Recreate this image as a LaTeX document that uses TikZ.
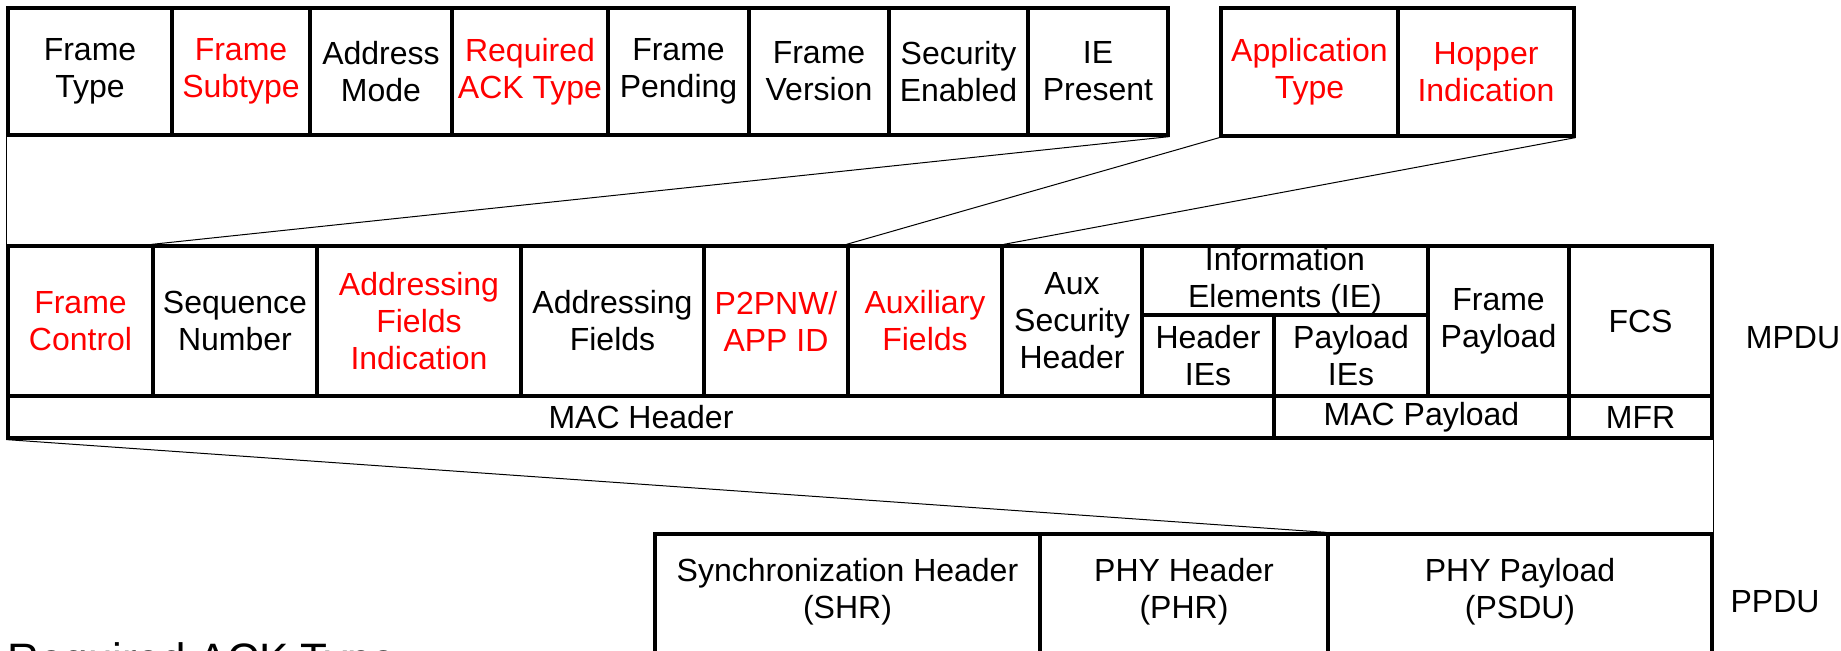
\documentclass[tikz,border=0pt]{standalone}
\usepackage{fontspec}
\setmainfont{Liberation Sans}
\usetikzlibrary{positioning}

\begin{document}
\begin{tikzpicture}[x=0.5pt, y=-0.5pt]
  \tikzset{field/.style={draw, line width=1.6pt, inner sep=0pt, align=center, font=\fontsize{16}{18.5}\selectfont}}
  \tikzset{wd/.style={minimum width=#1*0.5pt}, ht/.style={minimum height=#1*0.5pt}}
  \tikzset{hot/.style={text=red}}
  \tikzset{plain/.style={align=center, inner sep=0pt, font=\fontsize{16}{18.5}\selectfont}}
  \tikzset{link/.style={line width=0.5pt}}
  \useasboundingbox (0,0) rectangle (1841,651);
  % frame control subfields
  \node[field, wd=164, ht=127] (ftype) at (90,71.5) {Frame\\Type};
  \node[field, hot, wd=138, ht=127] (fsub) at (241,71.5) {Frame\\Subtype};
  \node[field, wd=142, ht=127] (amode) at (381,71.5) {Address\\Mode};
  \node[field, hot, wd=156, ht=127] (reqack) at (530,71.5) {Required\\ACK Type};
  \node[field, wd=141, ht=127] (fpend) at (678.5,71.5) {Frame\\Pending};
  \node[field, wd=140, ht=127] (fver) at (819,71.5) {Frame\\Version};
  \node[field, wd=139, ht=127] (secen) at (958.5,71.5) {Security\\Enabled};
  \node[field, wd=140, ht=127] (iepres) at (1098,71.5) {IE\\Present};
  % p2pnw / app id subfields
  \node[field, hot, wd=177, ht=128] (apptype) at (1309.5,72) {Application\\Type};
  \node[field, hot, wd=176, ht=128] (hopper) at (1486,72) {Hopper\\Indication};
  % MPDU
  \node[field, hot, wd=145, ht=150] (fctrl) at (80.5,321) {Frame\\Control};
  \node[field, wd=164, ht=150] (seqnum) at (235,321) {Sequence\\Number};
  \node[field, hot, wd=204, ht=150] (addrind) at (419,321) {Addressing\\Fields\\Indication};
  \node[field, wd=183, ht=150] (addr) at (612.5,321) {Addressing\\Fields};
  \node[field, hot, wd=144, ht=150] (p2pnw) at (776,321) {P2PNW/\\APP ID};
  \node[field, hot, wd=154, ht=150] (auxf) at (925,321) {Auxiliary\\Fields};
  \node[field, wd=140, ht=150] (auxsec) at (1072,321) {Aux\\Security\\Header};
  \node[field, wd=286, ht=69] (ie) at (1285,280.5) {Information\\Elements (IE)};
  \node[field, wd=132, ht=81] (hie) at (1208,355.5) {Header\\IEs};
  \node[field, wd=154, ht=81] (pie) at (1351,355.5) {Payload\\IEs};
  \node[field, wd=141, ht=150] (fpay) at (1498.5,321) {Frame\\Payload};
  \node[field, wd=143, ht=150] (fcs) at (1640.5,321) {FCS};
  \node[field, wd=1266, ht=42] (machdr) at (641,417) {MAC Header};
  \node[field, wd=295, ht=42] (macpay) at (1421.5,417) {MAC Payload};
  \node[field, wd=143, ht=42] (mfr) at (1640.5,417) {MFR};
  \node[plain] (mpdu) at (1793,338) {MPDU};
  % PPDU
  \node[field, wd=385, ht=176] (shr) at (847.5,622) {};
  \node[field, wd=288, ht=176] (phr) at (1184,622) {};
  \node[field, wd=384, ht=176] (psdu) at (1520,622) {};
  \node[plain] (shrtext) at (847.5,592) {Synchronization Header\\(SHR)};
  \node[plain] (phrtext) at (1184,592) {PHY Header\\(PHR)};
  \node[plain] (psdutext) at (1520,592) {PHY Payload\\(PSDU)};
  \node[plain] (ppdu) at (1775,602) {PPDU};
  \node[anchor=north west, inner sep=0pt, font=\fontsize{22}{26}\selectfont] (ackcap) at (7,642) {Required ACK Type};
  % zoom lines
  \draw[link] (ftype.south west) -- (fctrl.north west);
  \draw[link] (iepres.south east) -- (seqnum.north west);
  \draw[link] (apptype.south west) -- (auxf.north west);
  \draw[link] (hopper.south east) -- (auxf.north east);
  \draw[link] (machdr.south west) -- (psdu.north west);
  \draw[link] (mfr.south east) -- (psdu.north east);
\end{tikzpicture}
\end{document}
